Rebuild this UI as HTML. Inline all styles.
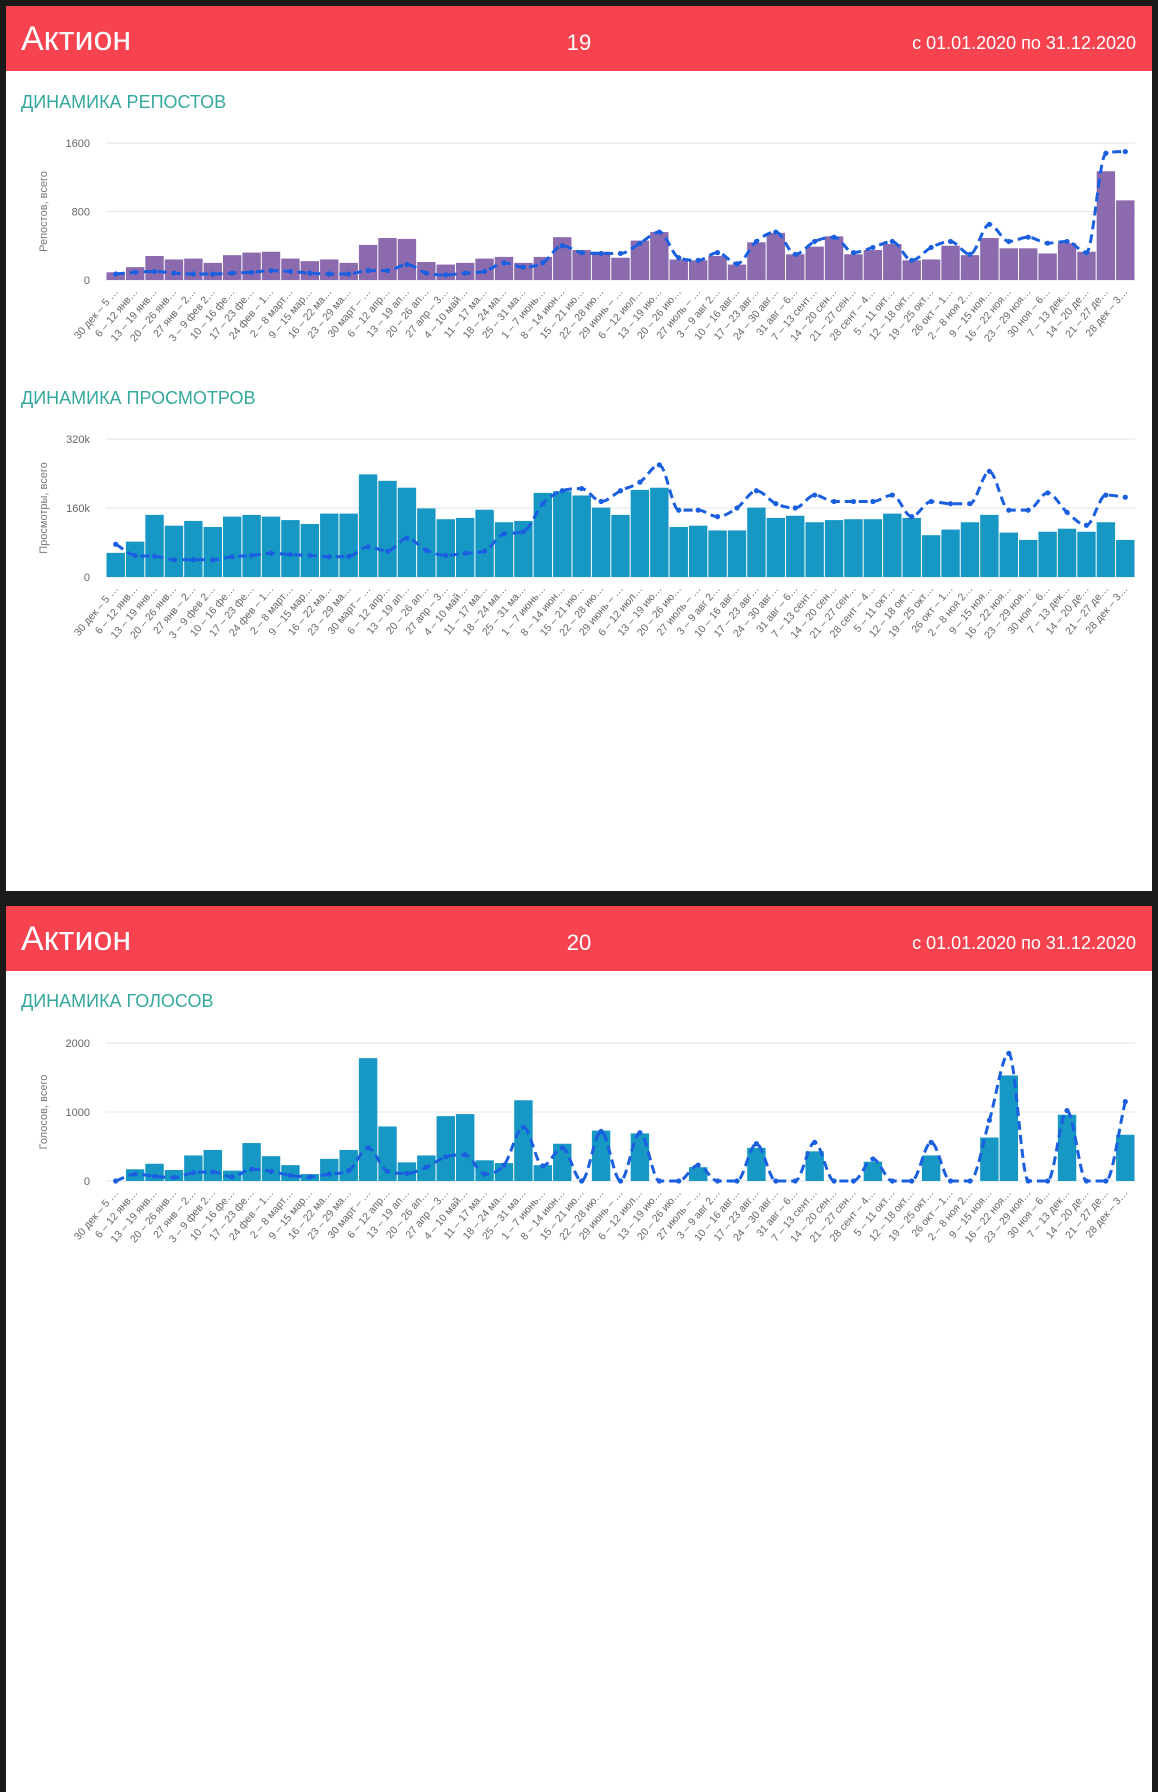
<!DOCTYPE html>
<html><head><meta charset="utf-8">
<style>
html,body{margin:0;padding:0;background:#1a1a1a;}
body{width:1158px;height:1792px;position:relative;overflow:hidden;font-family:"Liberation Sans",sans-serif;}
.page{position:absolute;left:6px;width:1146px;background:#fff;}
.hdr{position:absolute;left:6px;width:1146px;height:65px;background:#f7434f;color:#fff;}
.hdr .t{position:absolute;left:15px;top:14px;font-size:34px;}
.hdr .n{position:absolute;left:0;width:1146px;text-align:center;top:24px;font-size:22px;}
.hdr .d{position:absolute;right:16px;top:27px;font-size:18px;}
.ttl{position:absolute;left:21px;font-size:18px;color:#35a89d;}
svg{position:absolute;left:0;}
</style></head><body>
<div class="page" style="top:71px;height:820px"></div>
<div class="page" style="top:971px;height:821px"></div>
<div class="hdr" style="top:6px"><span class="t">Актион</span><span class="n">19</span><span class="d">с 01.01.2020 по 31.12.2020</span></div>
<div class="hdr" style="top:906px"><span class="t">Актион</span><span class="n">20</span><span class="d">с 01.01.2020 по 31.12.2020</span></div>
<div class="ttl" style="top:92px">ДИНАМИКА РЕПОСТОВ</div>
<div class="ttl" style="top:388px">ДИНАМИКА ПРОСМОТРОВ</div>
<div class="ttl" style="top:991px">ДИНАМИКА ГОЛОСОВ</div>
<svg id="c1" width="1158" height="1792" style="top:0"></svg>
<script>
var labels=["30 дек – 5 …","6 – 12 янв…","13 – 19 янв…","20 – 26 янв…","27 янв – 2…","3 – 9 фев 2…","10 – 16 фе…","17 – 23 фе…","24 фев – 1…","2 – 8 март…","9 – 15 мар…","16 – 22 ма…","23 – 29 ма…","30 март – …","6 – 12 апр…","13 – 19 ап…","20 – 26 ап…","27 апр – 3…","4 – 10 май…","11 – 17 ма…","18 – 24 ма…","25 – 31 ма…","1 – 7 июнь…","8 – 14 июн…","15 – 21 ию…","22 – 28 ию…","29 июнь – …","6 – 12 июл…","13 – 19 ию…","20 – 26 ию…","27 июль – …","3 – 9 авг 2…","10 – 16 авг…","17 – 23 авг…","24 – 30 авг…","31 авг – 6…","7 – 13 сент…","14 – 20 сен…","21 – 27 сен…","28 сент – 4…","5 – 11 окт…","12 – 18 окт…","19 – 25 окт…","26 окт – 1…","2 – 8 ноя 2…","9 – 15 ноя…","16 – 22 ноя…","23 – 29 ноя…","30 ноя – 6…","7 – 13 дек…","14 – 20 де…","21 – 27 де…","28 дек – 3…"];
var charts=[
{top:143,bot:280,max:1600,ticks:["0","800","1600"],title:"Репостов, всего",color:"#8b6aae",
bars:[90,150,280,240,250,200,290,320,330,250,220,240,200,410,490,480,210,180,200,250,270,200,270,500,350,330,260,460,560,240,230,280,180,440,550,300,390,510,300,350,420,230,240,400,290,490,370,370,310,430,330,1270,930],
line:[70,90,100,80,70,70,80,90,110,100,80,70,70,110,110,180,80,60,80,100,200,150,200,400,320,310,310,430,560,260,230,320,190,450,560,300,450,500,320,380,450,230,380,450,300,650,450,500,430,450,320,1480,1500]},
{top:439,bot:577,max:320,ticks:["0","160k","320k"],title:"Просмотры, всего",color:"#1798c4",
bars:[56,82,144,119,130,116,140,144,140,132,123,147,147,238,223,207,159,134,137,156,127,130,195,199,189,161,144,202,207,116,119,108,108,161,137,142,127,132,134,134,147,137,97,110,127,144,103,86,105,112,105,127,86],
line:[76,50,48,40,40,40,47,50,55,52,50,47,48,70,60,90,62,50,55,60,100,105,170,200,205,175,200,220,260,155,155,140,160,200,170,160,190,175,175,175,190,140,175,170,170,245,155,155,195,150,120,190,185]},
{top:1043,bot:1181,max:2000,ticks:["0","1000","2000"],title:"Голосов, всего",color:"#1798c4",
bars:[0,170,250,160,370,450,150,550,360,230,100,320,450,1780,790,270,370,940,970,300,260,1170,230,540,0,730,0,690,0,0,200,0,0,480,0,0,430,0,0,280,0,0,370,0,0,630,1530,0,0,960,0,0,670],
line:[0,100,70,50,120,130,60,170,140,80,60,100,150,480,140,110,200,350,380,100,230,780,220,480,0,720,0,700,0,0,230,0,0,540,0,0,560,0,0,320,0,0,560,0,0,880,1850,0,0,1020,0,0,1150]}
];
var L=106,R=1135,N=53,w=(R-L)/N,s="";
charts.forEach(function(c){
 var h=c.bot-c.top;
 c.ticks.forEach(function(t,i){var y=c.bot-h*i/2;
  s+='<line x1="'+L+'" x2="'+R+'" y1="'+y+'" y2="'+y+'" stroke="#e6e6e6" stroke-width="1"/>';
  s+='<text x="90" y="'+(y+4)+'" text-anchor="end" font-size="11" fill="#666">'+t+'</text>';});
 var my=(c.top+c.bot)/2;
 s+='<text transform="translate(47,'+my+') rotate(-90)" text-anchor="middle" font-size="11" fill="#777">'+c.title+'</text>';
 c.bars.forEach(function(v,i){var bh=v/c.max*h;
  s+='<rect x="'+(L+i*w+0.5)+'" y="'+(c.bot-bh)+'" width="'+(w-1)+'" height="'+bh+'" fill="'+c.color+'"/>';});
 var p=c.line.map(function(v,i){return [L+i*w+w/2,c.bot-v/c.max*h];});
 var n=p.length,dk=[],m=[];
 for(var i=0;i<n-1;i++)dk.push((p[i+1][1]-p[i][1])/w);
 for(var i=0;i<n;i++){
  if(i==0)m.push(dk[0]);else if(i==n-1)m.push(dk[n-2]);
  else if(dk[i-1]*dk[i]<=0)m.push(0);else m.push((dk[i-1]+dk[i])/2);}
 for(var i=0;i<n-1;i++){if(dk[i]==0){m[i]=0;m[i+1]=0;continue;}
  var a=m[i]/dk[i],b=m[i+1]/dk[i],t=a*a+b*b;if(t>9){var tt=3/Math.sqrt(t);m[i]=tt*a*dk[i];m[i+1]=tt*b*dk[i];}}
 var d="M"+p[0][0]+","+p[0][1];
 for(var i=0;i<n-1;i++){
  d+=" C"+(p[i][0]+w/3)+","+(p[i][1]+m[i]*w/3)+" "+(p[i+1][0]-w/3)+","+(p[i+1][1]-m[i+1]*w/3)+" "+p[i+1][0]+","+p[i+1][1];}
 s+='<path d="'+d+'" fill="none" stroke="#1a5fe0" stroke-width="3" stroke-dasharray="9,5"/>';
 p.forEach(function(q){s+='<circle cx="'+q[0]+'" cy="'+q[1]+'" r="2.6" fill="#1a5fe0"/>';});
 labels.forEach(function(t,i){var x=L+i*w+w/2+3,y=c.bot+12;
  s+='<text transform="translate('+x+','+y+') rotate(-50)" text-anchor="end" font-size="10.5" fill="#666">'+t+'</text>';});
});
document.getElementById("c1").innerHTML=s;
</script>
</body></html>
